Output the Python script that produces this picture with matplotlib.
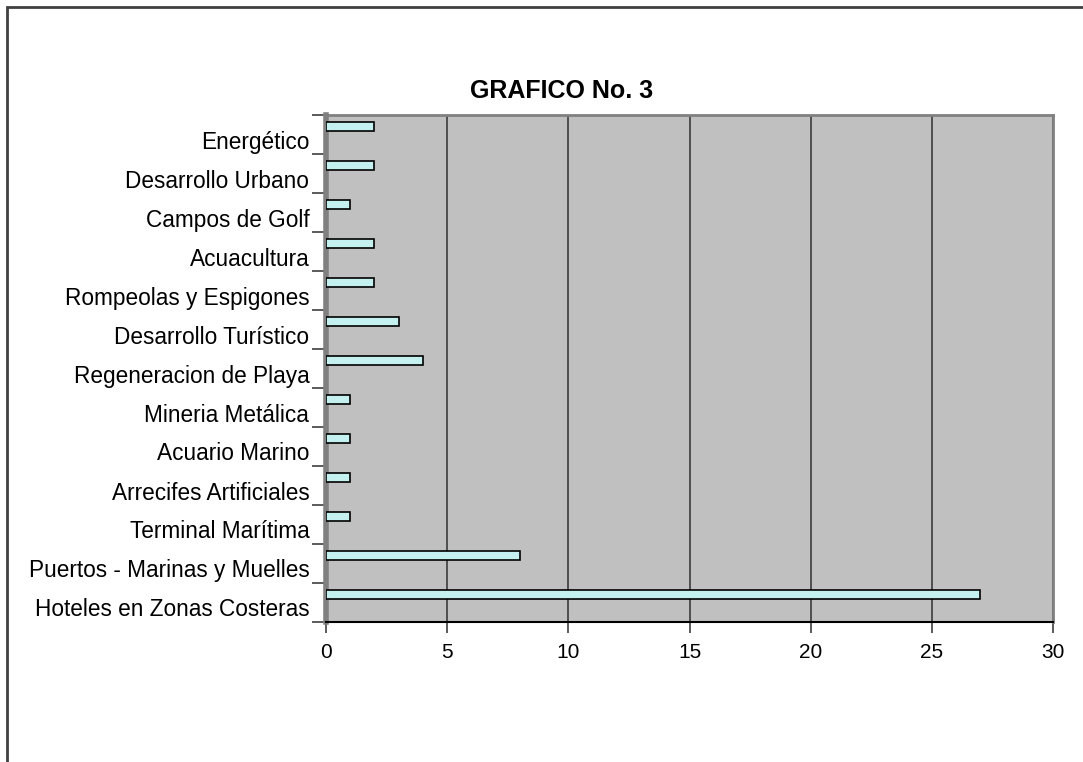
import matplotlib
matplotlib.use("Agg")
import matplotlib.pyplot as plt
from matplotlib.patches import Rectangle
from matplotlib.transforms import ScaledTranslation

categories = [
    "Hoteles en Zonas Costeras",
    "Puertos - Marinas y Muelles",
    "Terminal Marítima",
    "Arrecifes Artificiales",
    "Acuario Marino",
    "Mineria Metálica",
    "Regeneracion de Playa",
    "Desarrollo Turístico",
    "Rompeolas y Espigones",
    "Acuacultura",
    "Campos de Golf",
    "Desarrollo Urbano",
    "Energético",
]
values = [27, 8, 1, 1, 1, 1, 4, 3, 2, 2, 1, 2, 2]
x_ticks = [0, 5, 10, 15, 20, 25, 30]

plt.rcParams["font.family"] = ["Liberation Sans", "DejaVu Sans"]

fig = plt.figure(figsize=(10.83, 7.62), dpi=100)
fig.patches.append(Rectangle((7 / 1083, -0.1), 1.2, 1 - 7 / 762 + 0.1,
                             transform=fig.transFigure, fill=False,
                             edgecolor="#404040", linewidth=2))

ax = fig.add_axes([326 / 1083, 1 - 622 / 762, (1053 - 326) / 1083, (622 - 115) / 762])
ax.set_facecolor("#c0c0c0")

n = len(categories)
ypos = list(range(n))
ax.barh([y + 0.2 for y in ypos], values, height=0.22, color="#c4f0f0",
        edgecolor="black", linewidth=1.2, zorder=3)

ax.set_xlim(0, 30)
ax.set_ylim(-0.5, n - 0.5)
ax.set_xticks(x_ticks)
ax.set_xticklabels([str(t) for t in x_ticks], fontsize=15)
ax.set_yticks(ypos)
ax.set_yticklabels(categories, fontsize=16.3)
ax.set_yticks([y - 0.5 for y in range(n + 1)], minor=True)
ax.tick_params(axis="y", which="major", length=0, pad=12)
ax.tick_params(axis="y", which="minor", length=10, color="#404040", width=1.2)
ax.tick_params(axis="x", length=8, color="#404040", width=1.2, pad=7)

shift = ScaledTranslation(0, -5 / 100, fig.dpi_scale_trans)
for lbl in ax.get_yticklabels():
    lbl.set_transform(lbl.get_transform() + shift)

ax.grid(axis="x", color="#303030", linewidth=1.1, zorder=0)
ax.set_axisbelow(True)
for side in ["top", "right"]:
    ax.spines[side].set_color("#808080")
    ax.spines[side].set_linewidth(2)
ax.spines["left"].set_color("#808080")
ax.spines["left"].set_linewidth(4)
ax.spines["bottom"].set_color("black")
ax.spines["bottom"].set_linewidth(1.5)

fig.text(562 / 1083, 1 - 91 / 762, "GRAFICO No. 3", ha="center", va="center",
         fontsize=18, fontweight="bold")

fig.savefig("out.png", dpi=100)
